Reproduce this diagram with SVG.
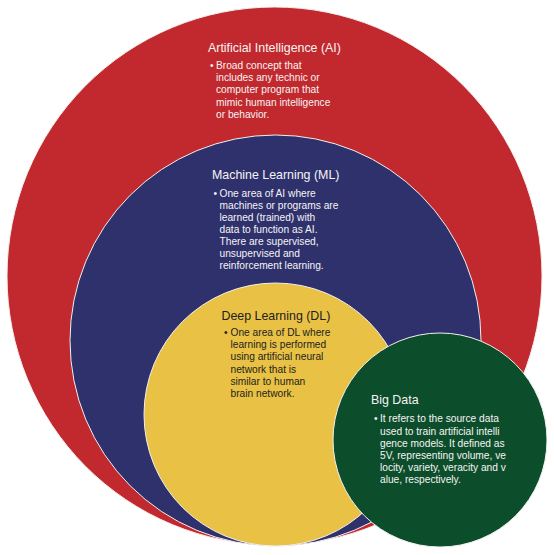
<svg xmlns="http://www.w3.org/2000/svg" width="554" height="555" viewBox="0 0 554 555">
  <style>
    .circle { stroke: #f4f0ee; stroke-width: 1; }
    .title { font-family: "Liberation Sans", Arial, sans-serif; font-size: 12.4px; }
    .body { font-family: "Liberation Sans", Arial, sans-serif; font-size: 10.2px; }
    .light { fill: #f6f3f3; }
    .dark { fill: #1e1e1e; }
  </style>
  <rect width="554" height="555" fill="#ffffff"/>
  <g id="connectors"/>
  <g id="ai">
    <ellipse class="circle" cx="274.5" cy="276" rx="267.5" ry="269" fill="#C1292E"/>
    <text class="title light" x="208" y="52">Artificial Intelligence (AI)</text>
    <g class="body light">
      <text x="210" y="69">•</text>
      <text x="216" y="69">Broad concept that</text>
      <text x="216" y="81.2">includes any technic or</text>
      <text x="216" y="93.4">computer program that</text>
      <text x="216" y="105.6">mimic human intelligence</text>
      <text x="216" y="117.8">or behavior.</text>
    </g>
  </g>
  <g id="ml">
    <circle class="circle" cx="275.5" cy="340.5" r="205.5" fill="#2E316C"/>
    <text class="title light" x="212" y="178.5">Machine Learning (ML)</text>
    <g class="body light">
      <text x="213.5" y="197.3">•</text>
      <text x="219.5" y="197.3">One area of AI where</text>
      <text x="219.5" y="209.2">machines or programs are</text>
      <text x="219.5" y="221.1">learned (trained) with</text>
      <text x="219.5" y="233">data to function as AI.</text>
      <text x="219.5" y="244.9">There are supervised,</text>
      <text x="219.5" y="256.8">unsupervised and</text>
      <text x="219.5" y="268.7">reinforcement learning.</text>
    </g>
  </g>
  <g id="dl">
    <circle class="circle" cx="275.5" cy="414.5" r="131.5" fill="#E8C145"/>
    <text class="title dark" x="221.5" y="319.5">Deep Learning (DL)</text>
    <g class="body dark">
      <text x="224" y="336.2">•</text>
      <text x="230.5" y="336.2">One area of DL where</text>
      <text x="230.5" y="348.3">learning is performed</text>
      <text x="230.5" y="360.4">using artificial neural</text>
      <text x="230.5" y="372.5">network that is</text>
      <text x="230.5" y="384.6">similar to human</text>
      <text x="230.5" y="396.7">brain network.</text>
    </g>
  </g>
  <g id="bigdata">
    <circle class="circle" cx="440" cy="440" r="107" fill="#0C4E2C"/>
    <text class="title light" x="371" y="403.5">Big Data</text>
    <g class="body light">
      <text x="374" y="422.3">•</text>
      <text x="380" y="422.3">It refers to the source data</text>
      <text x="380" y="434.5">used to train artificial intelli</text>
      <text x="380" y="446.7">gence models. It defined as</text>
      <text x="380" y="458.9">5V, representing volume, ve</text>
      <text x="380" y="471.1">locity, variety, veracity and v</text>
      <text x="380" y="483.3">alue, respectively.</text>
    </g>
  </g>
</svg>
